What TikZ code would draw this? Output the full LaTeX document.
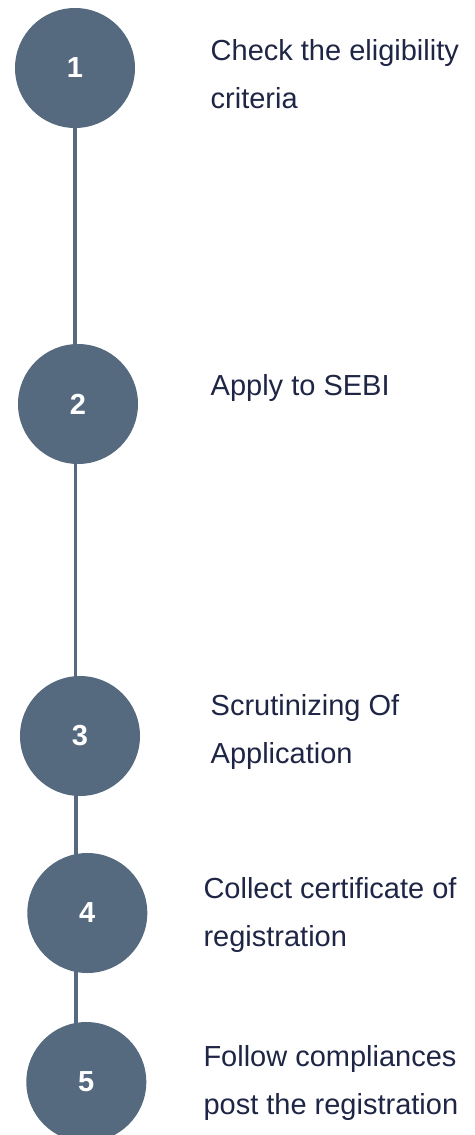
\documentclass[tikz,border=0pt]{standalone}
\usepackage{fontspec}
\setmainfont{Liberation Sans}
\usetikzlibrary{backgrounds}
\definecolor{stepfill}{HTML}{566A7F}
\definecolor{steptext}{HTML}{1E2545}
\begin{document}
\begin{tikzpicture}[x=1pt,y=-1pt,
  stepcircle/.style={circle,fill=stepfill,draw=none,minimum size=120pt,inner sep=0pt,
    text=white,font=\fontsize{29}{30}\selectfont\bfseries},
  steplabel/.style={anchor=base west,inner sep=0pt,align=left,text=steptext,
    font=\fontsize{29}{48}\selectfont},
  conn/.style={draw=stepfill,line width=3.2pt}]
\useasboundingbox (0,0) rectangle (474,1135);
\node[stepcircle] (c1) at (75,68) {1};
\node[stepcircle] (c2) at (78,404) {2};
\node[stepcircle] (c3) at (80,736) {3};
\node[stepcircle] (c4) at (87.3,913) {4};
\node[stepcircle] (c5) at (86.3,1082) {5};
\coordinate (spineA) at (75,0);
\coordinate (spineB) at (75.7,0);
\coordinate (spineC) at (76,0);
\begin{scope}[on background layer]
\draw[conn] (c1 -| spineA) -- (c2 -| spineA);
\draw[conn] (c2 -| spineB) -- (c3 -| spineB);
\draw[conn] (c3 -| spineC) -- (c4 -| spineC);
\draw[conn] (c4 -| spineC) -- (c5 -| spineC);
\end{scope}
\node[steplabel] (t1) at (210.5,108.5) {Check the eligibility\\criteria};
\node[steplabel] (t2) at (210.5,395) {Apply to SEBI};
\node[steplabel] (t3) at (210.5,763) {Scrutinizing Of\\Application};
\node[steplabel] (t4) at (203.3,946.3) {Collect certificate of\\registration};
\node[steplabel] (t5) at (203.3,1114.5) {Follow compliances\\post the registration};
\end{tikzpicture}
\end{document}
